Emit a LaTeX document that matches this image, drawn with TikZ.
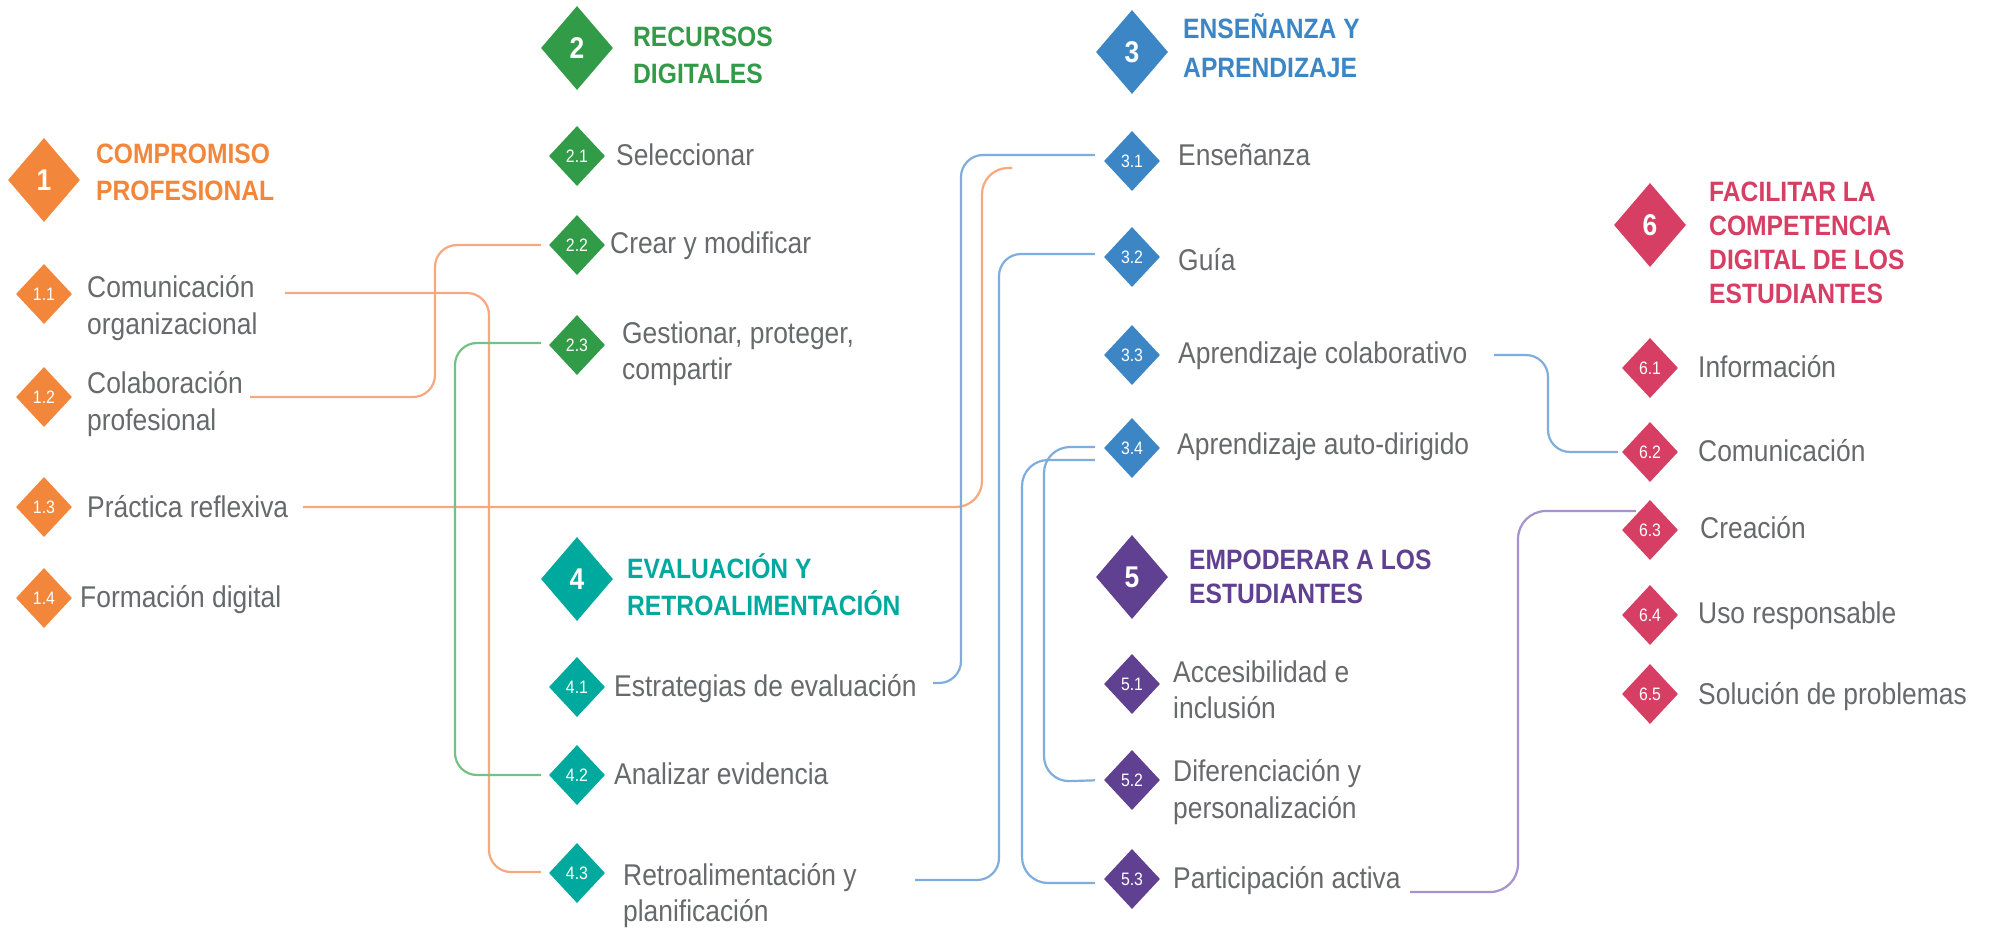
\documentclass[tikz,border=0pt]{standalone}
\usepackage{fontspec}
\setmainfont{Liberation Sans}[FakeStretch=0.88]
\usetikzlibrary{shapes.geometric}
\definecolor{corange}{RGB}{242,134,58}
\definecolor{cgreen}{RGB}{50,155,72}
\definecolor{cblue}{RGB}{61,134,198}
\definecolor{cteal}{RGB}{0,169,157}
\definecolor{cpurple}{RGB}{96,64,145}
\definecolor{cred}{RGB}{214,62,99}
\definecolor{lorange}{RGB}{247,168,126}
\definecolor{lgreen}{RGB}{118,192,132}
\definecolor{lblue}{RGB}{128,174,220}
\definecolor{lpurple}{RGB}{166,146,204}
\definecolor{tgray}{RGB}{104,105,108}
\pgfdeclarelayer{bg}
\pgfsetlayers{bg,main}
\tikzset{
  bigd/.style={diamond, fill=#1, minimum width=72pt, minimum height=84pt, inner sep=0pt,
    text=white, font=\fontsize{30}{30}\selectfont\bfseries},
  smd/.style={diamond, fill=#1, minimum width=56pt, minimum height=60pt, inner sep=0pt,
    text=white, font=\fontsize{18}{18}\selectfont},
  ttl/.style={anchor=base west, inner sep=0pt, align=left, text=#1,
    font=\fontsize{28}{37}\selectfont\bfseries},
  itm/.style={anchor=base west, inner sep=0pt, align=left, text=tgray,
    font=\fontsize{30}{37}\selectfont},
  spine/.style={line width=2.2pt, draw=#1},
  conn/.style={line width=2.2pt, draw=#1, rounded corners=22pt},
}
\begin{document}
\begin{tikzpicture}[x=1pt,y=-1pt]
\useasboundingbox[fill=white] (0,0) rectangle (1989,928);

% ---- Column 1 ----
\node[bigd=corange] (D1) at (44,180) {1};
\node[smd=corange] (d11) at (44,294) {1.1};
\node[smd=corange] (d12) at (44,397) {1.2};
\node[smd=corange] (d13) at (44,507) {1.3};
\node[smd=corange] (d14) at (44,598) {1.4};
\node[ttl=corange] (T1) at (96,201) {COMPROMISO\\PROFESIONAL};
\node[itm] (t11) at (87,334) {Comunicación\\organizacional};
\node[itm] (t12) at (87,430) {Colaboración\\profesional};
\node[itm] (t13) at (87,517) {Práctica reflexiva};
\node[itm] (t14) at (80,607) {Formación digital};

% ---- Column 2 ----
\node[bigd=cgreen] (D2) at (577,48) {2};
\node[smd=cgreen] (d21) at (577,156) {2.1};
\node[smd=cgreen] (d22) at (577,245) {2.2};
\node[smd=cgreen] (d23) at (577,345) {2.3};
\node[ttl=cgreen] (T2) at (633,84) {RECURSOS\\DIGITALES};
\node[itm] (t21) at (616,166) {Seleccionar};
\node[itm] (t22) at (610,254) {Crear y modificar};
\node[itm, font=\fontsize{30}{36}\selectfont] (t23) at (622,379) {Gestionar, proteger,\\compartir};

% ---- Column 4 ----
\node[bigd=cteal] (D4) at (577,579) {4};
\node[smd=cteal] (d41) at (577,687) {4.1};
\node[smd=cteal] (d42) at (577,775) {4.2};
\node[smd=cteal] (d43) at (577,873) {4.3};
\node[ttl=cteal] (T4) at (627,615) {EVALUACIÓN Y\\RETROALIMENTACIÓN};
\node[itm] (t41) at (614,696) {Estrategias de evaluación};
\node[itm] (t42) at (614,784) {Analizar evidencia};
\node[itm, font=\fontsize{30}{36}\selectfont] (t43) at (623,921) {Retroalimentación y\\planificación};

% ---- Column 3 ----
\node[bigd=cblue] (D3) at (1132,52) {3};
\node[smd=cblue] (d31) at (1132,161) {3.1};
\node[smd=cblue] (d32) at (1132,257) {3.2};
\node[smd=cblue] (d33) at (1132,355) {3.3};
\node[smd=cblue] (d34) at (1132,448) {3.4};
\node[ttl=cblue, font=\fontsize{28}{39}\selectfont\bfseries] (T3) at (1183,78) {ENSEÑANZA Y\\APRENDIZAJE};
\node[itm] (t31) at (1178,166) {Enseñanza};
\node[itm] (t32) at (1178,270) {Guía};
\node[itm] (t33) at (1178,363) {Aprendizaje colaborativo};
\node[itm] (t34) at (1177,454) {Aprendizaje auto-dirigido};

% ---- Column 5 ----
\node[bigd=cpurple] (D5) at (1132,577) {5};
\node[smd=cpurple] (d51) at (1132,684) {5.1};
\node[smd=cpurple] (d52) at (1132,780) {5.2};
\node[smd=cpurple] (d53) at (1132,879) {5.3};
\node[ttl=cpurple, font=\fontsize{28}{34}\selectfont\bfseries] (T5) at (1189,603) {EMPODERAR A LOS\\ESTUDIANTES};
\node[itm, font=\fontsize{30}{36}\selectfont] (t51) at (1173,718) {Accesibilidad e\\inclusión};
\node[itm] (t52) at (1173,818) {Diferenciación y\\personalización};
\node[itm] (t53) at (1173,888) {Participación activa};

% ---- Column 6 ----
\node[bigd=cred] (D6) at (1650,225) {6};
\node[smd=cred] (d61) at (1650,368) {6.1};
\node[smd=cred] (d62) at (1650,452) {6.2};
\node[smd=cred] (d63) at (1650,530) {6.3};
\node[smd=cred] (d64) at (1650,615) {6.4};
\node[smd=cred] (d65) at (1650,694) {6.5};
\node[ttl=cred, font=\fontsize{28}{34}\selectfont\bfseries] (T6) at (1709,303) {FACILITAR LA\\COMPETENCIA\\DIGITAL DE LOS\\ESTUDIANTES};
\node[itm] (t61) at (1698,377) {Información};
\node[itm] (t62) at (1698,461) {Comunicación};
\node[itm] (t63) at (1700,538) {Creación};
\node[itm] (t64) at (1698,623) {Uso responsable};
\node[itm] (t65) at (1698,704) {Solución de problemas};

% ---- connector free ends ----
\coordinate (c11) at (285,293);
\coordinate (c12) at (250,397);
\coordinate (c13) at (303,507);
\coordinate (cEnd) at (1012,168);
\coordinate (c41) at (933,683);
\coordinate (c43) at (915,880);
\coordinate (c33) at (1494,355);
\coordinate (c53) at (1410,892);

\begin{pgfonlayer}{bg}
  \draw[spine=corange!85] (D1.center) -- (d14.center);
  \draw[spine=cgreen!85] (D2.center) -- (d23.center);
  \draw[spine=cteal!85] (D4.center) -- (d43.center);
  \draw[spine=cblue!85] (D3.center) -- (d34.center);
  \draw[spine=cpurple!85] (D5.center) -- (d53.center);
  \draw[spine=cred!85] (D6.center) -- (d64.center);
\end{pgfonlayer}

% ---- connectors ----
\draw[conn=lorange, shorten >=8pt] (c11) -| (489,872) -- ([yshift=1pt]d43.west);
\draw[conn=lorange, shorten >=8pt] (c12) -| (435,245) -- (d22.west);
\draw[conn=lorange, rounded corners=26pt] (c13) -| (982,168) -- (cEnd);
\draw[conn=lgreen, shorten <=8pt, shorten >=8pt] ([yshift=2pt]d23.west) -| (455,775) -- (d42.west);
\draw[conn=lblue, shorten >=9pt] (c41) -| (961,155) -- ([yshift=6pt]d31.west);
\draw[conn=lblue, shorten >=9pt] (c43) -| (999,254) -- ([yshift=3pt]d32.west);
\draw[conn=lblue, rounded corners=26pt, shorten <=9pt, shorten >=9pt] ([yshift=1pt]d34.west) -| (1044,782) -- (d52.west);
\draw[conn=lblue, rounded corners=26pt, shorten <=9pt, shorten >=9pt] ([yshift=-12pt]d34.west) -| (1022,883) -- ([yshift=-4pt]d53.west);
\draw[conn=lblue] (c33) -| (1548,452) -- ([xshift=-4pt]d62.west);
\draw[conn=lpurple, rounded corners=28pt] (c53) -| (1518,511) -- ([xshift=14pt,yshift=19pt]d63.west);
\end{tikzpicture}
\end{document}
